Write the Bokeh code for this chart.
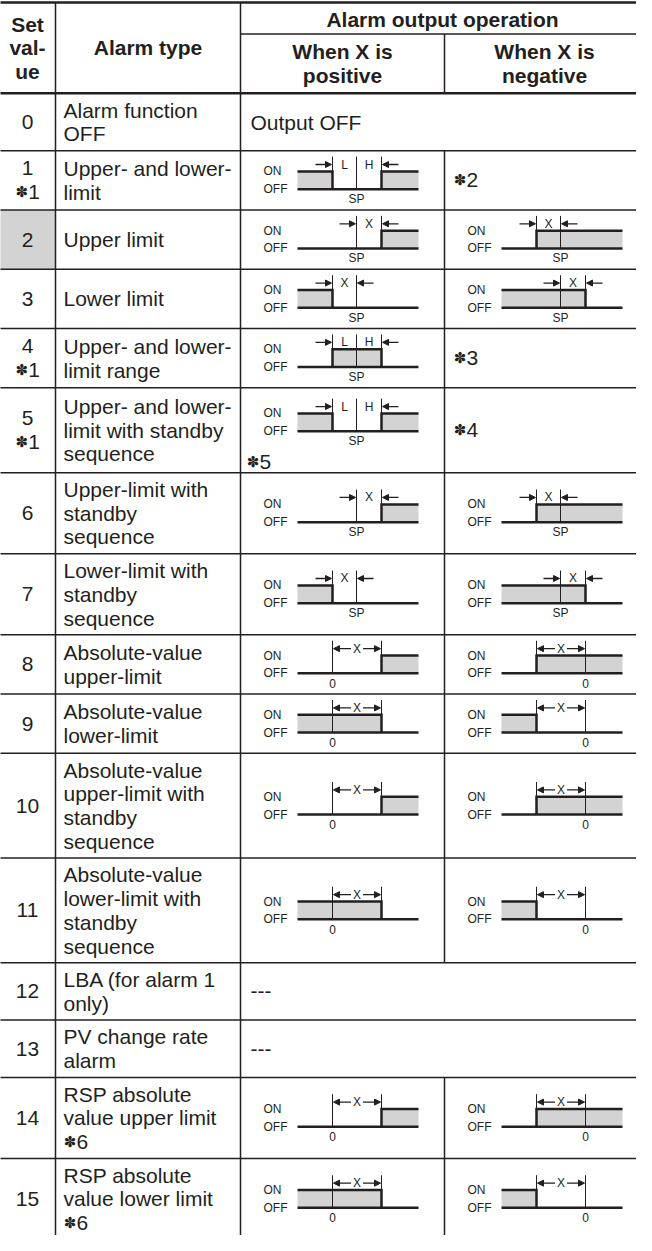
from bokeh.plotting import figure
from bokeh.models import Range1d, ColumnDataSource, Arrow, NormalHead
from bokeh.core.properties import value
from bokeh.embed import file_html
from bokeh.resources import INLINE

# ---------------- data ----------------
HEADER_SET = ["Set", "val-", "ue"]
HEADER_TYPE = "Alarm type"
HEADER_OUTPUT = "Alarm output operation"
HEADER_POS = ["When X is", "positive"]
HEADER_NEG = ["When X is", "negative"]

SET_VALUES = ["0", "1", "2", "3", "4", "5", "6", "7", "8", "9", "10", "11", "12", "13", "14", "15"]
SET_NOTES = ["", "✽1", "", "", "✽1", "✽1", "", "", "", "", "", "", "", "", "", ""]
HIGHLIGHTED = ["2"]

ALARM_TYPES = [
    ["Alarm function", "OFF"],
    ["Upper- and lower-", "limit"],
    ["Upper limit"],
    ["Lower limit"],
    ["Upper- and lower-", "limit range"],
    ["Upper- and lower-", "limit with standby", "sequence"],
    ["Upper-limit with", "standby", "sequence"],
    ["Lower-limit with", "standby", "sequence"],
    ["Absolute-value", "upper-limit"],
    ["Absolute-value", "lower-limit"],
    ["Absolute-value", "upper-limit with", "standby", "sequence"],
    ["Absolute-value", "lower-limit with", "standby", "sequence"],
    ["LBA (for alarm 1", "only)"],
    ["PV change rate", "alarm"],
    ["RSP absolute", "value upper limit", "✽6"],
    ["RSP absolute", "value lower limit", "✽6"],
]

OUTPUT_SPAN = ["Output OFF", None, None, None, None, None, None, None,
               None, None, None, None, "---", "---", None, None]
OUTPUT_POS = [None, "outside", "upper+", "lower+", "range", "outside", "upper+", "lower+",
              "absupper+", "abslower+", "absupper+", "abslower+", None, None, "absupper+", "abslower+"]
OUTPUT_NEG = [None, "✽2", "upper-", "lower-", "✽3", "✽4", "upper-", "lower-",
              "absupper-", "abslower-", "absupper-", "abslower-", None, None, "absupper-", "abslower-"]
POS_NOTES = ["", "", "", "", "", "✽5", "", "", "", "", "", "", "", "", "", ""]

# diagram kinds: shaded (ON) spans, reference line, marker spans, arrow style
KINDS = {
    "outside":   dict(shade=[("start", "a"), ("b", "end")], ref=("s", "SP"), marks=[("a", "s", "L"), ("s", "b", "H")], arrows="in"),
    "range":     dict(shade=[("a", "b")], ref=("s", "SP"), marks=[("a", "s", "L"), ("s", "b", "H")], arrows="in"),
    "upper+":    dict(shade=[("b", "end")], ref=("s", "SP"), marks=[("s", "b", "X")], arrows="in"),
    "upper-":    dict(shade=[("a", "end")], ref=("s", "SP"), marks=[("a", "s", "X")], arrows="in"),
    "lower+":    dict(shade=[("start", "a")], ref=("s", "SP"), marks=[("a", "s", "X")], arrows="in"),
    "lower-":    dict(shade=[("start", "b")], ref=("s", "SP"), marks=[("s", "b", "X")], arrows="in"),
    "absupper+": dict(shade=[("b", "end")], ref=("a", "0"), marks=[("a", "b", "X")], arrows="out"),
    "absupper-": dict(shade=[("a", "end")], ref=("b", "0"), marks=[("a", "b", "X")], arrows="out"),
    "abslower+": dict(shade=[("start", "b")], ref=("a", "0"), marks=[("a", "b", "X")], arrows="out"),
    "abslower-": dict(shade=[("start", "a")], ref=("b", "0"), marks=[("a", "b", "X")], arrows="out"),
}

# ---------------- layout / style ----------------
INK = "#231f20"
GRAY = "#d3d3d3"
FONT = "Liberation Sans"
STAR_FONT = "DejaVu Sans"
BODY = 21
SMALL = 12

X_LEFT, X_RIGHT = 7, 652
COL_X = [63, 248, 452]
Y_TOP, Y_SUB, Y_HEAD = 3, 35, 95
Y_END = 1251
LINE, PAD, DIAG_MIN, NOTE_EXTRA = 24, 10, 60, 4

p = figure(width=636, height=1235, x_range=Range1d(8, 644), y_range=Range1d(Y_END, 1),
           x_axis_type=None, y_axis_type=None, output_backend="svg",
           toolbar_location=None, min_border=0)
p.outline_line_color = None
p.background_fill_color = "white"
p.border_fill_color = "white"

texts = {}


def add_text(key, x, y, t):
    texts.setdefault(key, []).append((x, y, t))


def put(x, y, s, size=BODY, bold=False, align="left"):
    style = "bold" if bold else "normal"
    if s.startswith("✽"):
        rest = s[1:]
        sw = 13
        dw = 0.556 * size * len(rest)
        left = x - (sw + dw) / 2 if align == "center" else x
        add_text((15, "normal", "center", STAR_FONT), left + sw / 2, y, "✽")
        add_text((size, style, "left", FONT), left + sw, y, rest)
    else:
        add_text((size, style, align, FONT), x, y, s)


hsegs = []   # (x0, y0, x1, y1, width)
quads = []
thin = []
thick_paths = []
arrows = []

# ---- header ----
hc = (Y_TOP + Y_HEAD) / 2
for k, t in enumerate(HEADER_SET):
    put((X_LEFT + COL_X[0]) / 2, hc + (k - 1) * LINE, t, bold=True, align="center")
put((COL_X[0] + COL_X[1]) / 2, hc, HEADER_TYPE, bold=True, align="center")
put((COL_X[1] + X_RIGHT) / 2, (Y_TOP + Y_SUB) / 2 + 1, HEADER_OUTPUT, bold=True, align="center")
sc = (Y_SUB + Y_HEAD) / 2
for k, t in enumerate(HEADER_POS):
    put((COL_X[1] + COL_X[2]) / 2, sc + (k - 0.5) * LINE, t, bold=True, align="center")
for k, t in enumerate(HEADER_NEG):
    put((COL_X[2] + X_RIGHT) / 2, sc + (k - 0.5) * LINE, t, bold=True, align="center")

hsegs.append((X_LEFT, Y_TOP, X_RIGHT, Y_TOP, 2.5))
hsegs.append((COL_X[1], Y_SUB, X_RIGHT, Y_SUB, 1.5))
hsegs.append((X_LEFT, Y_HEAD, X_RIGHT, Y_HEAD, 2.5))
hsegs.append((COL_X[0], Y_TOP, COL_X[0], Y_END, 1.5))
hsegs.append((COL_X[1], Y_TOP, COL_X[1], Y_END, 1.5))
hsegs.append((COL_X[2], Y_SUB, COL_X[2], Y_HEAD, 1.5))


def draw_diagram(kind, cl, yc):
    spec = KINDS[kind]
    P = dict(start=cl + 57, a=cl + 92, s=cl + 116, b=cl + 141, end=cl + 178)
    yon, yoff = yc - 9, yc + 9
    ytop, yarr = yon - 15, yon - 7
    for l, r in spec["shade"]:
        quads.append((P[l], P[r], yon, yoff))
        xs, ys = [], []
        if l != "start":
            xs.append(P[l]); ys.append(yoff)
        xs += [P[l], P[r]]; ys += [yon, yon]
        if r != "end":
            xs.append(P[r]); ys.append(yoff)
        thick_paths.append((xs, ys))
    thick_paths.append(([P["start"], P["end"]], [yoff, yoff]))
    vx = {P[spec["ref"][0]]}
    for l, r, lab in spec["marks"]:
        vx.add(P[l]); vx.add(P[r])
        put((P[l] + P[r]) / 2, yarr, lab, size=SMALL, align="center")
    for x in vx:
        thin.append((x, ytop, x, yoff))
    m0 = P[spec["marks"][0][0]]
    m1 = P[spec["marks"][-1][1]]
    if spec["arrows"] == "in":
        arrows.append((m0 - 17, yarr, m0 - 1, yarr))
        arrows.append((m1 + 17, yarr, m1 + 1, yarr))
    else:
        mid = (m0 + m1) / 2
        arrows.append((mid - 6, yarr, m0 + 1, yarr))
        arrows.append((mid + 6, yarr, m1 - 1, yarr))
    put(P[spec["ref"][0]], yoff + 10, spec["ref"][1], size=SMALL, align="center")
    put(cl + 23, yon, "ON", size=SMALL)
    put(cl + 23, yoff, "OFF", size=SMALL)


# ---- body rows ----
y = Y_HEAD
for i, sv in enumerate(SET_VALUES):
    n = max(len(ALARM_TYPES[i]), 2 if SET_NOTES[i] else 1)
    h = n * LINE + PAD
    if OUTPUT_POS[i] in KINDS:
        h = max(h, DIAG_MIN)
    if POS_NOTES[i]:
        h += NOTE_EXTRA
    top, bot = y, y + h
    yc = (top + bot) / 2
    if sv in HIGHLIGHTED:
        quads.append((X_LEFT, COL_X[0], top, bot))
    # set value
    lines = [sv] + ([SET_NOTES[i]] if SET_NOTES[i] else [])
    for k, t in enumerate(lines):
        put((X_LEFT + COL_X[0]) / 2, yc + (k - (len(lines) - 1) / 2) * LINE, t, align="center")
    # alarm type
    at = ALARM_TYPES[i]
    for k, t in enumerate(at):
        put(COL_X[0] + 8, yc + (k - (len(at) - 1) / 2) * LINE, t)
    # output columns
    if OUTPUT_SPAN[i] is not None:
        put(COL_X[1] + 10, yc, OUTPUT_SPAN[i])
    else:
        hsegs.append((COL_X[2], top, COL_X[2], bot, 1.5))
        dyc = yc - 8 if POS_NOTES[i] else yc
        for cl, entry in ((COL_X[1], OUTPUT_POS[i]), (COL_X[2], OUTPUT_NEG[i])):
            if entry in KINDS:
                draw_diagram(entry, cl, dyc)
            elif entry:
                put(cl + 9, yc, entry)
        if POS_NOTES[i]:
            put(COL_X[1] + 6, bot - 11, POS_NOTES[i])
    if bot < Y_END:
        hsegs.append((X_LEFT, bot, X_RIGHT, bot, 1.5))
    y = bot

# ---- render ----
qs = ColumnDataSource(dict(l=[q[0] for q in quads], r=[q[1] for q in quads],
                           t=[q[2] for q in quads], b=[q[3] for q in quads]))
p.quad(left="l", right="r", top="t", bottom="b", source=qs, fill_color=GRAY, line_color=None)

ts = ColumnDataSource(dict(x0=[s[0] for s in thin], y0=[s[1] for s in thin],
                           x1=[s[2] for s in thin], y1=[s[3] for s in thin]))
p.segment(x0="x0", y0="y0", x1="x1", y1="y1", source=ts, line_color=INK, line_width=1)

for w in sorted(set(s[4] for s in hsegs)):
    sel = [s for s in hsegs if s[4] == w]
    src = ColumnDataSource(dict(x0=[s[0] for s in sel], y0=[s[1] for s in sel],
                                x1=[s[2] for s in sel], y1=[s[3] for s in sel]))
    p.segment(x0="x0", y0="y0", x1="x1", y1="y1", source=src, line_color=INK, line_width=w)

ms = ColumnDataSource(dict(xs=[t[0] for t in thick_paths], ys=[t[1] for t in thick_paths]))
p.multi_line(xs="xs", ys="ys", source=ms, line_color=INK, line_width=2.5, line_join="miter")

asrc = ColumnDataSource(dict(x0=[a[0] for a in arrows], y0=[a[1] for a in arrows],
                             x1=[a[2] for a in arrows], y1=[a[3] for a in arrows]))
p.add_layout(Arrow(end=NormalHead(size=6, fill_color=INK, line_color=INK, line_width=1),
                   x_start="x0", y_start="y0", x_end="x1", y_end="y1", source=asrc,
                   line_color=INK, line_width=1.3))

for (size, style, align, font), items in texts.items():
    src = ColumnDataSource(dict(x=[it[0] for it in items], y=[it[1] for it in items],
                                text=[it[2] for it in items]))
    p.text(x="x", y="y", text="text", source=src, text_font=value(font),
           text_font_size=value(f"{size}px"), text_font_style=style,
           text_align=align, text_baseline="middle", text_color=INK)

open("out.html", "w").write(file_html(p, INLINE, title="Alarm types"))
